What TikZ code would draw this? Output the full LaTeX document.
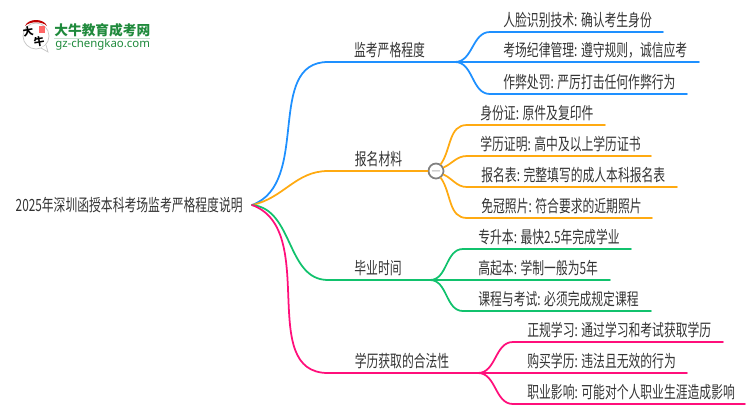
\documentclass[tikz,border=0pt]{standalone}
\usepackage{fontspec}
\usepackage{xcolor}
\usetikzlibrary{positioning}
\newfontfamily\cjk[FakeStretch=0.70]{Noto Sans CJK SC}
\newfontfamily\logofont{Noto Sans CJK SC}
\newfontfamily\logolatin{Noto Sans}
\definecolor{bluebr}{HTML}{1E90FF}
\definecolor{orangebr}{HTML}{FFAA11}
\definecolor{greenbr}{HTML}{11C26D}
\definecolor{pinkbr}{HTML}{FF0F7B}
\definecolor{logogreen}{HTML}{1F8A3C}
\definecolor{inktext}{HTML}{333333}

\begin{document}
\begin{tikzpicture}[x=0.02cm, y=-0.02cm,
    branch/.style={line width=1pt, line cap=round},
    textlabel/.style={font=\cjk\fontsize{9.6}{11}\selectfont, text=inktext, inner sep=0pt},
    leaf/.style={textlabel, anchor=west}]
  \useasboundingbox (0,0) rectangle (750,410);

  % Root
  \node[textlabel, anchor=east] (root) at (243,205) {2025年深圳函授本科考场监考严格程度说明};
  \coordinate (rootp) at (252,205);

  % Blue branch
  \coordinate (kneeA) at (328,62);
  \coordinate (forkA) at (455,62);
  \node[textlabel] (labelA) at (389.5,50) {监考严格程度};
  \draw[branch, bluebr] (rootp) to[out=20, in=180] (kneeA) -- (forkA);

  % Orange branch
  \coordinate (kneeB) at (328,171);
  \node[circle, draw=gray, fill=white, line width=1pt, minimum size=0.3cm, inner sep=0pt,
        font=\bfseries\fontsize{7}{7}\selectfont, text=gray] (foldB) at (436,171) {$-$};
  \node[textlabel] (labelB) at (378.5,159) {报名材料};
  \draw[branch, orangebr] (rootp) to[out=12, in=180] (kneeB) -- (foldB);

  % Green branch
  \coordinate (kneeC) at (328,280);
  \coordinate (forkC) at (430,280);
  \node[textlabel] (labelC) at (378,268) {毕业时间};
  \draw[branch, greenbr] (rootp) to[out=-5, in=180] (kneeC) -- (forkC);

  % Pink branch
  \coordinate (kneeD) at (328,373);
  \coordinate (forkD) at (478,373);
  \node[textlabel] (labelD) at (402,361) {学历获取的合法性};
  \draw[branch, pinkbr] (rootp) to[out=-20, in=180] (kneeD) -- (forkD);

  % Leaves: name/fork/colour/out angle/knee x/end x/y/text x/text
  \foreach \name/\from/\col/\ang/\kx/\ex/\ly/\tx/\txt in {
      a1/forkA/bluebr/0/490/663/32/503/{人脸识别技术: 确认考生身份},
      a3/forkA/bluebr/0/490/687/94/503/{作弊处罚: 严厉打击任何作弊行为},
      b1/foldB/orangebr/55/467/605/125/480/{身份证: 原件及复印件},
      b2/foldB/orangebr/25/467/651/156/480/{学历证明: 高中及以上学历证书},
      b3/foldB/orangebr/-25/467/677/187/481/{报名表: 完整填写的成人本科报名表},
      b4/foldB/orangebr/-55/467/652/218/481/{免冠照片: 符合要求的近期照片},
      c1/forkC/greenbr/0/463/631/249/478/{专升本: 最快2.5年完成学业},
      c3/forkC/greenbr/0/463/651/311/478/{课程与考试: 必须完成规定课程},
      d1/forkD/pinkbr/0/513/723/342/527/{正规学习: 通过学习和考试获取学历},
      d3/forkD/pinkbr/0/513/745/404/527/{职业影响: 可能对个人职业生涯造成影响}} {
    \coordinate (k\name) at (\kx,\ly);
    \coordinate (e\name) at (\ex,\ly);
    \node[leaf] (t\name) at (\tx,\ly-12) {\txt};
    \draw[branch, \col] (\from) to[out=\ang, in=180] (k\name) -- (e\name);
  }

  % Straight leaves
  \foreach \name/\from/\col/\ex/\ly/\tx/\txt in {
      a2/forkA/bluebr/699/62/503/{考场纪律管理: 遵守规则，诚信应考},
      c2/forkC/greenbr/610/280/478/{高起本: 学制一般为5年},
      d2/forkD/pinkbr/687/373/527/{购买学历: 违法且无效的行为}} {
    \coordinate (e\name) at (\ex,\ly);
    \node[leaf] (t\name) at (\tx,\ly-12) {\txt};
    \draw[branch, \col] (\from) -- (e\name);
  }

  % Logo
  \node[circle, draw=gray!45, fill=white, line width=0.4pt, minimum size=0.52cm, inner sep=0pt] (badge) at (36,36) {};
  \coordinate (tailA) at (41,48);
  \coordinate (tailB) at (48,52);
  \coordinate (tailC) at (46,45);
  \draw[gray!45, fill=white, line width=0.4pt] (tailA) -- (tailB) -- (tailC);
  \fill[red!75!black] (25,26) .. controls (28,18) and (44,18) .. (47,26) .. controls (42,21) and (30,21) .. (25,26) -- cycle;
  \fill[red!60!white] (39,26) rectangle (45,33);
  \node[inner sep=0pt, font=\logofont\bfseries\fontsize{6}{6}\selectfont, rotate=10] (badgeA) at (28,32) {大};
  \node[inner sep=0pt, font=\logofont\bfseries\fontsize{6}{6}\selectfont, rotate=10] (badgeB) at (39,42) {牛};
  \node[inner sep=0pt, anchor=west, text=logogreen, font=\logofont\bfseries\fontsize{7.8}{9}\selectfont] (logoA) at (54,30) {大牛教育成考网};
  \node[inner sep=0pt, anchor=west, text=logogreen, font=\logolatin\fontsize{6.5}{8}\selectfont] (logoB) at (55,45) {gz-chengkao.com};
  \coordinate (ruleA) at (54,38.5);
  \coordinate (ruleB) at (150,38.5);
  \draw[logogreen!25, line width=0.5pt] (ruleA) -- (ruleB);
\end{tikzpicture}
\end{document}
